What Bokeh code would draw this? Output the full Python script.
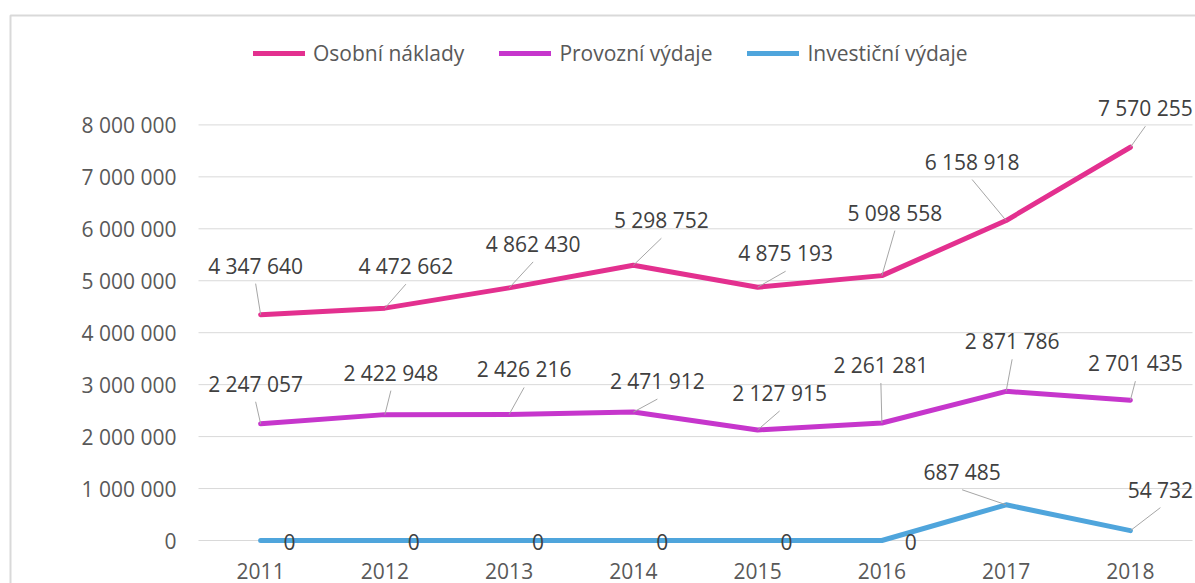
from bokeh.plotting import figure
from bokeh.models import Range1d, FixedTicker, Legend, LegendItem, ColumnDataSource
from bokeh.core.properties import value
from bokeh.embed import file_html
from bokeh.resources import INLINE

# ---------------- data ----------------
years = ["2011", "2012", "2013", "2014", "2015", "2016", "2017", "2018"]
series_names = ["Osobní náklady", "Provozní výdaje", "Investiční výdaje"]
osobni = [4347640, 4472662, 4862430, 5298752, 4875193, 5098558, 6158918, 7570255]
provozni = [2247057, 2422948, 2426216, 2471912, 2127915, 2261281, 2871786, 2701435]
investicni = [0, 0, 0, 0, 0, 0, 687485, 190000]
investicni_labels = ["0", "0", "0", "0", "0", "0", "687 485", "54 732"]
y_ticks = [0, 1000000, 2000000, 3000000, 4000000, 5000000, 6000000, 7000000, 8000000]
y_tick_labels = ["0", "1 000 000", "2 000 000", "3 000 000", "4 000 000",
                 "5 000 000", "6 000 000", "7 000 000", "8 000 000"]

# ---------------- styling / layout ----------------
colors = ["#E3308F", "#C636CC", "#4FA5DC"]
FONT = "Open Sans"
FS = "21px"
TICK_COLOR = "#595959"
LABEL_COLOR = "#404040"
GRID_COLOR = "#D9D9D9"
LEADER_COLOR = "#A6A6A6"

W, H = 1195, 583                 # canvas = frame
PX_X = 124.25                    # pixels per category step
PX_Y = 51.95e-6                  # pixels per unit of value
PLOT_LEFT, ZERO_Y = 198, 540     # pixel position of the plot area's left edge / value 0
X0 = -0.5 - PLOT_LEFT / PX_X
X1 = X0 + W / PX_X
Y1 = ZERO_Y / PX_Y
Y0 = Y1 - H / PX_Y

# label offsets in screen pixels (dx right, dy down) relative to each point
off_osobni = [(-5, -49), (21, -42), (24, -44), (28, -45), (28, -34), (13, -63), (-34, -59), (15, -39)]
off_provozni = [(-5, -40), (6, -42), (15, -45), (24, -31), (22, -37), (-1, -58), (6, -50), (5, -37)]
off_invest = [(29, 1), (29, 1), (29, 1), (29, 1), (29, 1), (29, 1), (-44, -33), (30, -41)]
leader_invest = [False] * 6 + [True, True]


def fmt(v):
    return f"{v:,}".replace(",", " ")


p = figure(
    frame_width=W, frame_height=H,
    min_border=0, min_border_left=0, min_border_right=0, min_border_top=0, min_border_bottom=0,
    x_range=Range1d(X0, X1), y_range=Range1d(Y0, Y1),
    output_backend="svg", toolbar_location=None,
)
p.outline_line_color = None
p.background_fill_color = "white"
p.border_fill_color = "white"
p.xgrid.visible = False
p.ygrid.visible = False

# chart-area border (left and top edges; the rest lies outside the picture)
bx = X0 + 10 / PX_X
by = Y1 - 15 / PX_Y
p.line([bx, bx, X1 + 1], [Y0 - 1e6, by, by], line_color=GRID_COLOR, line_width=2)

# horizontal gridlines at the value ticks
p.segment([-0.5] * len(y_ticks), y_ticks, [7.5] * len(y_ticks), y_ticks,
          line_color=GRID_COLOR, line_width=1)

xax = p.xaxis[0]
yax = p.yaxis[0]
yax.ticker = FixedTicker(ticks=y_ticks)
yax.major_label_overrides = {t: l for t, l in zip(y_ticks, y_tick_labels)}
yax.fixed_location = -0.5
xax.ticker = FixedTicker(ticks=list(range(len(years))))
xax.major_label_overrides = {i: y for i, y in enumerate(years)}
xax.fixed_location = 0
for ax in (xax, yax):
    ax.axis_line_color = None
    ax.major_tick_line_color = None
    ax.minor_tick_line_color = None
    ax.major_tick_out = 0
    ax.major_tick_in = 0
    ax.minor_tick_out = 0
    ax.minor_tick_in = 0
    ax.major_label_text_font = FONT
    ax.major_label_text_font_size = FS
    ax.major_label_text_color = TICK_COLOR
yax.major_label_standoff = 22
xax.major_label_standoff = 22

idx = list(range(len(years)))
all_vals = [osobni, provozni, investicni]
all_labels = [[fmt(v) for v in osobni], [fmt(v) for v in provozni], investicni_labels]
all_offs = [off_osobni, off_provozni, off_invest]
all_leader = [[True] * 8, [True] * 8, leader_invest]

renderers = []
for vals, col in zip(all_vals, colors):
    r = p.line(idx, vals, line_width=5, line_color=col, line_cap="round", line_join="round")
    renderers.append(r)

# leader lines
lx0, ly0, lx1, ly1 = [], [], [], []
for vals, offs, lead in zip(all_vals, all_offs, all_leader):
    for i, (v, (dx, dy), ld) in enumerate(zip(vals, offs, lead)):
        if ld:
            lx0.append(i)
            ly0.append(v)
            lx1.append(i + dx / PX_X)
            ly1.append(v - (dy + 18) / PX_Y)
p.segment(lx0, ly0, lx1, ly1, line_color=LEADER_COLOR, line_width=1)

# data labels
for vals, labels, offs in zip(all_vals, all_labels, all_offs):
    src = ColumnDataSource(dict(
        x=idx, y=vals, t=labels,
        dx=[o[0] for o in offs], dy=[o[1] for o in offs],
    ))
    p.text(x="x", y="y", text="t", x_offset="dx", y_offset="dy", source=src,
           text_align="center", text_baseline="middle",
           text_font=value(FONT), text_font_size=FS, text_color=LABEL_COLOR)

legend = Legend(
    items=[LegendItem(label=n, renderers=[r]) for n, r in zip(series_names, renderers)],
    orientation="horizontal", location=(253, H - 67),
    border_line_color=None, background_fill_alpha=0,
    padding=0, margin=0, spacing=35, glyph_width=52, glyph_height=20, label_standoff=8,
    label_text_font=FONT, label_text_font_size=FS, label_text_color=TICK_COLOR,
)
p.add_layout(legend)

open("out.html", "w").write(file_html(p, INLINE))
